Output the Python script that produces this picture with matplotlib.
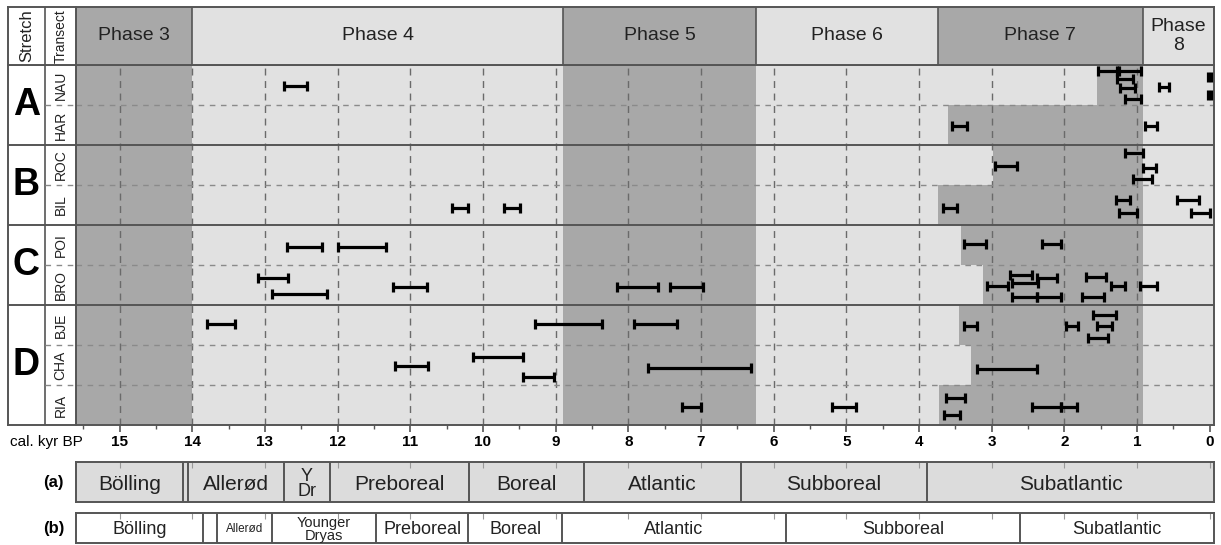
import numpy as np
import matplotlib.pyplot as plt
from matplotlib.ticker import MultipleLocator

plt.rcParams['font.family'] = ['Liberation Sans', 'DejaVu Sans']

# ---------------- data (cal. kyr BP) ----------------
stretches = ['A', 'B', 'C', 'D']
stretch_rows = [2, 2, 2, 3]
transects = ['NAU', 'HAR', 'ROC', 'BIL', 'POI', 'BRO', 'BJE', 'CHA', 'RIA']

phase_names = ['Phase 3', 'Phase 4', 'Phase 5', 'Phase 6', 'Phase 7', 'Phase\n8']
phase_bounds = [15.6, 14.0, 8.9, 6.24, 3.74, 0.92, -0.06]
phase_dark = [True, False, True, False, True, False]

# onset of phase 7 in each transect (ends at 0.92 everywhere)
phase7_start = [1.55, 3.6, 2.98, 3.74, 3.42, 3.12, 3.45, 3.29, 3.73]
phase7_end = 0.92

# dated intervals: transect, older limit, younger limit, position inside the row
date_transect = ['NAU'] * 9 + ['HAR'] * 2 + ['ROC'] * 4 + ['BIL'] * 6 + ['POI'] * 4 \
    + ['BRO'] * 15 + ['BJE'] * 8 + ['CHA'] * 5 + ['RIA'] * 6
date_old = [12.74, 1.53, 1.25, 1.27, 1.24, 1.17, 0.70, 0.02, 0.02,
            3.55, 0.89,
            2.96, 1.16, 0.92, 1.06,
            10.43, 9.71, 3.67, 1.29, 1.25, 0.45,
            12.70, 11.99, 3.38, 2.31,
            13.10, 12.90, 11.24, 8.16, 7.43, 2.75, 2.37, 2.72, 3.07, 2.72, 2.37, 1.70, 1.36, 1.76, 0.96,
            13.80, 9.28, 7.92, 3.38, 1.98, 1.61, 1.55, 1.68,
            10.14, 11.21, 9.45, 7.73, 3.20,
            7.26, 5.20, 3.63, 3.65, 2.45, 2.04]
date_young = [12.42, 1.28, 0.94, 1.06, 1.03, 0.94, 0.56, -0.02, -0.02,
              3.34, 0.72,
              2.65, 0.92, 0.74, 0.80,
              10.21, 9.49, 3.47, 1.09, 1.00, 0.14,
              12.21, 11.33, 3.08, 2.04,
              12.68, 12.15, 10.77, 7.59, 6.97, 2.45, 2.10, 2.36, 2.78, 2.37, 2.04, 1.42, 1.17, 1.46, 0.73,
              13.41, 8.36, 7.33, 3.20, 1.81, 1.29, 1.35, 1.40,
              9.45, 10.76, 9.02, 6.31, 2.38,
              7.00, 4.87, 3.36, 3.44, 2.04, 1.83]
date_pos = [0.52, 0.15, 0.15, 0.35, 0.57, 0.85, 0.55, 0.3, 0.75,
            0.52, 0.52,
            0.52, 0.2, 0.57, 0.85,
            0.57, 0.57, 0.57, 0.37, 0.7, 0.37,
            0.55, 0.55, 0.47, 0.47,
            0.32, 0.72, 0.55, 0.55, 0.55, 0.25, 0.32, 0.45, 0.52, 0.8, 0.8, 0.3, 0.52, 0.8, 0.52,
            0.47, 0.47, 0.47, 0.52, 0.52, 0.25, 0.52, 0.82,
            0.3, 0.52, 0.8, 0.57, 0.6,
            0.55, 0.55, 0.32, 0.75, 0.55, 0.55]
# extra piece for the one row of BIL reaching 0
date_transect += ['BIL']
date_old += [0.26]
date_young += [0.0]
date_pos += [0.7]

clim_a_names = ['Bölling', '', 'Allerød', 'Y\nDr', 'Preboreal', 'Boreal', 'Atlantic', 'Subboreal', 'Subatlantic']
clim_a_bounds = [15.6, 14.13, 14.06, 12.74, 12.1, 10.19, 8.61, 6.45, 3.89, -0.06]
clim_b_names = ['Bölling', '', 'Allerød', 'Younger\nDryas', 'Preboreal', 'Boreal', 'Atlantic', 'Subboreal', 'Subatlantic']
clim_b_bounds = [15.6, 13.85, 13.66, 12.9, 11.47, 10.2, 8.91, 5.83, 2.61, -0.06]

# ---------------- layout ----------------
W, H = 1221, 545
dark = '#a8a8a8'
light = '#e1e1e1'
edge = '#555555'
xlim = (phase_bounds[0], phase_bounds[-1])
nrows = len(transects)


def box(x0, y0, x1, y1):
    return [x0 / W, 1 - y1 / H, (x1 - x0) / W, (y1 - y0) / H]


fig = plt.figure(figsize=(W / 100, H / 100), dpi=100)
ax = fig.add_axes(box(76, 65, 1214, 425))
axh = fig.add_axes(box(76, 7, 1214, 65))
axl = fig.add_axes(box(8, 65, 76, 425))
axlh = fig.add_axes(box(8, 7, 76, 65))
axa = fig.add_axes(box(76, 462, 1214, 502))
axb = fig.add_axes(box(76, 513, 1214, 543))

for a in [ax, axh, axl, axlh, axa, axb]:
    for s in a.spines.values():
        s.set_color(edge)
        s.set_linewidth(1.4)

# ---- main panel ----
ax.set_xlim(*xlim)
ax.set_ylim(nrows, 0)
ax.set_facecolor(light)
for i, d in enumerate(phase_dark):
    if d and phase_names[i] != 'Phase 7':
        ax.axvspan(phase_bounds[i], phase_bounds[i + 1], color=dark, lw=0, zorder=0)
rows = np.arange(nrows)
ax.barh(rows + 0.5, np.array(phase7_start) - phase7_end, left=phase7_end,
        height=1.0, color=dark, lw=0, zorder=0)

for k in range(1, 16):
    ax.axvline(k, color='#6a6a6a', lw=1.0, ls=(0, (5, 4)), zorder=1)

bounds = np.cumsum(stretch_rows)
for r in range(1, nrows):
    if r in bounds:
        ax.axhline(r, color=edge, lw=1.4, zorder=2)
    else:
        ax.axhline(r, color='#8a8a8a', lw=1.0, ls=(0, (4, 4)), zorder=1)

yrow = np.array([transects.index(t) for t in date_transect]) + np.array(date_pos)
old = np.array(date_old)
young = np.array(date_young)
ax.errorbar((old + young) / 2, yrow, xerr=(old - young) / 2, fmt='none',
            ecolor='black', elinewidth=2.3, capsize=3.8, capthick=2.3, zorder=3,
            clip_on=True)

ax.set_yticks([])
ax.set_xticks(range(0, 16))
ax.set_xticklabels([str(k) for k in range(0, 16)], fontweight='bold', fontsize=11)
ax.xaxis.set_minor_locator(MultipleLocator(0.5))
ax.tick_params(axis='x', which='major', length=5, width=1.2, color=edge, pad=2)
ax.tick_params(axis='x', which='minor', length=3, width=1.0, color=edge)
fig.text(10 / W, 1 - 442 / H, 'cal. kyr BP', fontsize=11, va='center', ha='left')

# ---- phase header ----
axh.set_xlim(*xlim)
axh.set_ylim(0, 1)
for i, name in enumerate(phase_names):
    x0, x1 = phase_bounds[i], phase_bounds[i + 1]
    axh.axvspan(x0, x1, color=dark if phase_dark[i] else light, lw=0)
    if i > 0:
        axh.axvline(x0, color=edge, lw=1.2)
    axh.text((x0 + x1) / 2, 0.5, name, ha='center', va='center', fontsize=14,
             color='#222222', linespacing=1.15)
axh.set_xticks([])
axh.set_yticks([])

# ---- left label columns ----
split = 0.544
axlh.set_xlim(0, 1)
axlh.set_ylim(0, 1)
axlh.axvline(split, color=edge, lw=1.2)
axlh.text(split / 2, 0.5, 'Stretch', rotation=90, ha='center', va='center', fontsize=12, color='#222222')
axlh.text((1 + split) / 2, 0.5, 'Transect', rotation=90, ha='center', va='center', fontsize=10, color='#222222')
axlh.set_xticks([])
axlh.set_yticks([])

axl.set_xlim(0, 1)
axl.set_ylim(nrows, 0)
axl.axvline(split, color=edge, lw=1.2)
start = 0
for name, n in zip(stretches, stretch_rows):
    axl.text(split / 2, start + n / 2, name, ha='center', va='center', fontsize=27,
             fontweight='bold', color='black')
    if start > 0:
        axl.axhline(start, color=edge, lw=1.4)
    for j in range(1, n):
        axl.plot([split, 1], [start + j, start + j], color='#8a8a8a', lw=1.0, ls=(0, (4, 4)))
    start += n
for r, t in enumerate(transects):
    axl.text((1 + split) / 2, r + 0.5, t, rotation=90, ha='center', va='center',
             fontsize=10, color='#222222')
axl.set_xticks([])
axl.set_yticks([])


# ---- climate zone bars ----
def zone_bar(a, names, bnds, face, sizes, label, ybase):
    a.set_xlim(*xlim)
    a.set_ylim(0, 1)
    a.set_facecolor(face)
    for i, name in enumerate(names):
        x0, x1 = bnds[i], bnds[i + 1]
        if i > 0:
            a.axvline(x0, color=edge, lw=1.4)
        a.text((x0 + x1) / 2, 0.45, name, ha='center', va='center',
               fontsize=sizes.get(name, sizes['default']), color='#222222', linespacing=0.85)
    a.set_xticks(range(0, 16))
    a.tick_params(axis='x', top=True, bottom=False, labelbottom=False, labeltop=False,
                  direction='in', length=4, color='#999999')
    a.set_yticks([])
    fig.text(64 / W, ybase, label, ha='right', va='center', fontsize=12, fontweight='bold')


zone_bar(axa, clim_a_names, clim_a_bounds, '#dcdcdc', {'default': 15, 'Y\nDr': 13},
         '(a)', 1 - 482 / H)
zone_bar(axb, clim_b_names, clim_b_bounds, 'white',
         {'default': 13, 'Allerød': 8.5, 'Younger\nDryas': 10.5}, '(b)', 1 - 528 / H)

fig.savefig('out.png', dpi=100)
